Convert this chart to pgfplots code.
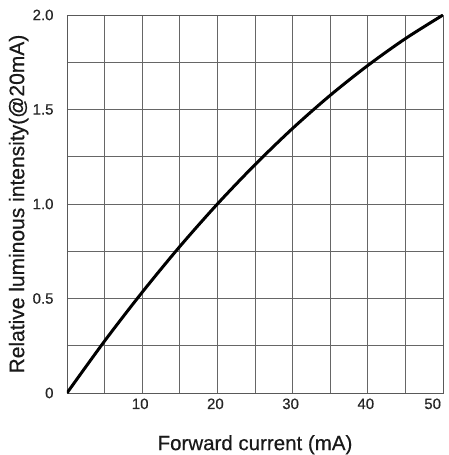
\documentclass[border=0pt]{standalone}
\usepackage{pgfplots}
\pgfplotsset{compat=1.18}
\usepackage{fontspec}
\setmainfont{Liberation Sans}[FakeBold=0.5]

\begin{document}
\begin{tikzpicture}
% frame of the whole picture (449 x 455)
\path[use as bounding box] (-67bp,-62bp) rectangle (382bp,393bp);
\begin{axis}[
    at={(0,0)}, anchor=south west,
    scale only axis,
    width=376bp, height=378bp,
    xmin=0, xmax=50, ymin=0, ymax=2,
    xtick={10,20,30,40,50},
    xticklabels={10,20,30,40,\llap{50}},
    minor xtick={5,15,25,35,45},
    ytick={0,0.5,1,1.5,2},
    yticklabels={0,0.5,1.0,1.5,2.0},
    minor ytick={0.25,0.75,1.25,1.75},
    grid=both,
    major grid style={black!60, line width=0.8bp},
    minor grid style={black!60, line width=0.8bp},
    axis line style={black!65, line width=0.9bp},
    major tick length=0, minor tick length=0,
    tick label style={font=\fontsize{15bp}{18bp}\selectfont, text=black!85},
    xticklabel style={yshift=-2bp, xshift=-2bp},
    yticklabel style={xshift=-10bp},
    xlabel={Forward current (mA)},
    ylabel={Relative luminous intensity(@20mA)},
    label style={text=black!90},
    xlabel style={font=\fontsize{20.5bp}{24bp}\selectfont,
        at={(axis description cs:0.5,-0.151)}, anchor=base},
    ylabel style={font=\fontsize{21bp}{24bp}\selectfont,
        at={(axis description cs:-0.114,0.5)}, anchor=base},
]
\addplot[black, line width=3bp, smooth] coordinates {
    (0,0) (5,0.275) (10,0.533) (15,0.775) (20,1.0) (25,1.208)
    (30,1.4) (35,1.575) (40,1.733) (45,1.875) (50,2.0)
};
\end{axis}
\end{tikzpicture}
\end{document}
